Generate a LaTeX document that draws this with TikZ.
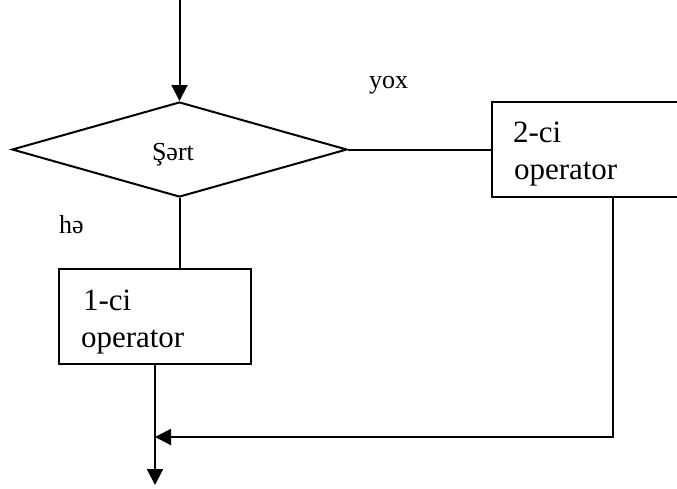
\documentclass[tikz,border=0pt]{standalone}
\usepackage{fontspec}
\setmainfont{Liberation Serif}
\usetikzlibrary{shapes.geometric,arrows.meta}
\begin{document}
\begin{tikzpicture}[x=1pt,y=-1pt,line width=2pt,
  flow/.style={-{Triangle[length=16pt,width=16pt]}},
  cond/.style={diamond,draw,inner sep=0pt,minimum width=335pt,minimum height=95pt},
  opbox/.style={rectangle,draw,inner sep=0pt,minimum height=95pt},
  lbl/.style={font=\fontsize{26}{30}\selectfont,inner sep=0pt,anchor=base west},
  optext/.style={font=\fontsize{31}{37}\selectfont,inner sep=0pt,anchor=base west}]
\useasboundingbox (0,0) rectangle (677,488);
\clip (0,0) rectangle (677,488);

% decision and the two operator blocks
\node[cond] (dia) at (179.5,149.5) {};
\node[lbl] (sart) at (151,160) {Şərt};
\node[opbox,minimum width=190pt] (op2) at (587,149.5) {};
\node[opbox,minimum width=192pt] (op1) at (155,316.5) {};

% texts inside the blocks
\node[optext] (op2a) at (512,142) {2-ci};
\node[optext] (op2b) at (513,179) {operator};
\node[optext] (op1a) at (82,310) {1-ci};
\node[optext] (op1b) at (80,347) {operator};

% branch labels
\node[lbl] (no) at (368,88) {yox};
\node[lbl] (yes) at (58,233) {hə};

% connectors
\coordinate (entry) at (179.5,0);
\coordinate (exit) at (155,485);
\coordinate (turn) at (613,437);
\coordinate (merge) at (155,437);
\draw[flow] (entry) -- (dia.north);
\draw (dia.east) -- (op2.west);
\draw (dia.south) -- (dia.south |- op1.north);
\draw[flow] (op1.south) -- (exit);
\draw[flow] (op2.south -| turn) |- (merge);
\end{tikzpicture}
\end{document}
